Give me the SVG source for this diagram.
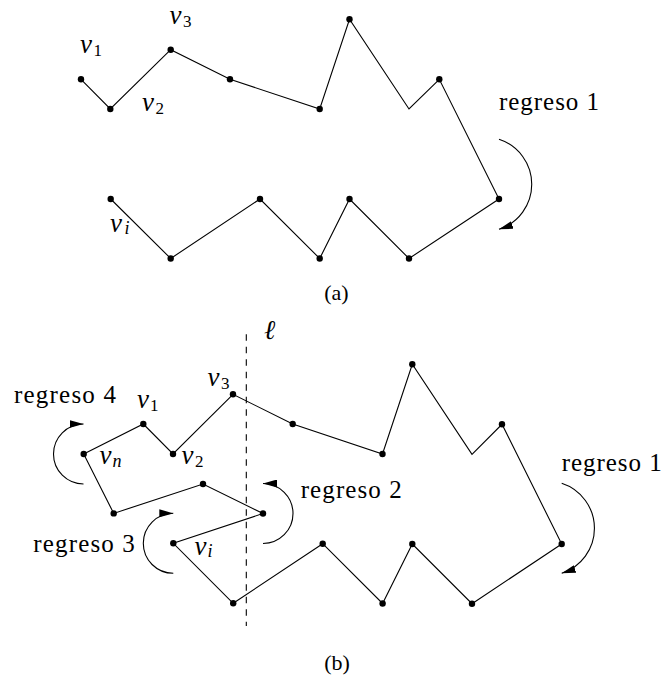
<svg xmlns="http://www.w3.org/2000/svg" width="662" height="677" viewBox="0 0 662 677">
<style>
.ln{fill:none;stroke:#000;stroke-width:1.1;stroke-linejoin:miter}
.arc{fill:none;stroke:#000;stroke-width:1.1;marker-end:url(#ah)}
.dash{fill:none;stroke:#000;stroke-width:1.1;stroke-dasharray:6.5 6}
.dot{fill:#000}
text{fill:#000}
.t{font-size:25px}
.m{font-style:italic;font-size:27px}
.s{font-size:17px}
.si{font-style:italic;font-size:18px}
.cap{font-size:22px}
</style>
<defs>
<marker id="ah" markerUnits="userSpaceOnUse" markerWidth="14" markerHeight="8" viewBox="0 0 14 8" refX="14" refY="4" orient="auto">
<path d="M0,0 L14,4 L0,8 z" fill="#000"/>
</marker>
</defs>

<g id="connectors">
<polyline class="ln" points="81,79.3 110.3,109 170.7,49.7 230,79.3 319.7,109 349.5,19.3 409,109 439.3,79.3 499,199 409,258.5 349.5,199 319.7,258.5 260,199 170.7,258.5 110.7,199"/>
<polygon class="ln" points="83.7,454 143.3,424 173,454 233,394.3 292.7,424 382.5,454 412.3,364.3 472,454.3 502,424.3 561.7,544 472,603.7 412.3,544 382.6,603.5 322.7,543.7 233.2,603.3 173.3,543.3 263,513.5 203,484 113.7,513.4"/>
<line class="dash" x1="246.3" y1="334.3" x2="246.3" y2="626"/>
<path class="arc" d="M499,139.3 A47.3,47.3 0 0 1 499,229.3"/>
<path class="arc" d="M561.7,483.3 A47.3,47.3 0 0 1 561.7,573.3"/>
<path class="arc" d="M83.5,484 A30,30 0 0 1 83.5,424"/>
<path class="arc" d="M263,543.5 A30,30 0 0 0 263,483.5"/>
<path class="arc" d="M173.3,573.3 A30,30 0 0 1 173.3,513.3"/>
</g>

<g id="nodes" font-family="'Liberation Serif', 'Times New Roman', 'DejaVu Serif', serif">
<g id="a-v1"><circle class="dot" cx="81" cy="79.3" r="3.2"/><text class="m" x="80" y="52.7">v</text><text class="s" x="93.5" y="55.5">1</text></g>
<g id="a-v2"><circle class="dot" cx="110.3" cy="109" r="3.2"/><text class="m" x="142" y="110.5">v</text><text class="s" x="155.5" y="113.5">2</text></g>
<g id="a-v3"><circle class="dot" cx="170.7" cy="49.7" r="3.2"/><text class="m" x="169.5" y="24">v</text><text class="s" x="183" y="26.5">3</text></g>
<g id="a-p4"><circle class="dot" cx="230" cy="79.3" r="3.2"/></g>
<g id="a-p5"><circle class="dot" cx="319.7" cy="109" r="3.2"/></g>
<g id="a-p6"><circle class="dot" cx="349.5" cy="19.3" r="3.2"/></g>
<g id="a-p7"><circle class="dot" cx="439.3" cy="79.3" r="3.2"/></g>
<g id="a-p8"><circle class="dot" cx="499" cy="199" r="3.2"/></g>
<g id="a-p9"><circle class="dot" cx="409" cy="258.5" r="3.2"/></g>
<g id="a-p10"><circle class="dot" cx="349.5" cy="199" r="3.2"/></g>
<g id="a-p11"><circle class="dot" cx="319.7" cy="258.5" r="3.2"/></g>
<g id="a-p12"><circle class="dot" cx="260" cy="199" r="3.2"/></g>
<g id="a-p13"><circle class="dot" cx="170.7" cy="258.5" r="3.2"/></g>
<g id="a-vi"><circle class="dot" cx="110.7" cy="199" r="3.2"/><text class="m" x="110" y="231.7">v</text><text class="si" x="124.5" y="233.5">i</text></g>
<g id="a-regreso1"><text class="t" x="499" y="110" textLength="100" lengthAdjust="spacing">regreso 1</text></g>
<g id="a-caption"><text class="cap" x="336.5" y="299.5" text-anchor="middle">(a)</text></g>

<g id="b-ell"><text class="m" x="264" y="339">ℓ</text></g>
<g id="b-vn"><circle class="dot" cx="83.7" cy="454" r="3.2"/><text class="m" x="99.5" y="464">v</text><text class="si" x="112.5" y="466.5">n</text></g>
<g id="b-v1"><circle class="dot" cx="143.3" cy="424" r="3.2"/><text class="m" x="137" y="407.7">v</text><text class="s" x="150" y="410.5">1</text></g>
<g id="b-v2"><circle class="dot" cx="173" cy="454" r="3.2"/><text class="m" x="181.5" y="464">v</text><text class="s" x="195" y="467">2</text></g>
<g id="b-v3"><circle class="dot" cx="233" cy="394.3" r="3.2"/><text class="m" x="207.5" y="386">v</text><text class="s" x="221" y="388.5">3</text></g>
<g id="b-p5"><circle class="dot" cx="292.7" cy="424" r="3.2"/></g>
<g id="b-p6"><circle class="dot" cx="382.5" cy="454" r="3.2"/></g>
<g id="b-p7"><circle class="dot" cx="412.3" cy="364.3" r="3.2"/></g>
<g id="b-p8"><circle class="dot" cx="502" cy="424.3" r="3.2"/></g>
<g id="b-p9"><circle class="dot" cx="561.7" cy="544" r="3.2"/></g>
<g id="b-p10"><circle class="dot" cx="472" cy="603.7" r="3.2"/></g>
<g id="b-p11"><circle class="dot" cx="412.3" cy="544" r="3.2"/></g>
<g id="b-p12"><circle class="dot" cx="382.6" cy="603.5" r="3.2"/></g>
<g id="b-p13"><circle class="dot" cx="322.7" cy="543.7" r="3.2"/></g>
<g id="b-p14"><circle class="dot" cx="233.2" cy="603.3" r="3.2"/></g>
<g id="b-vi"><circle class="dot" cx="173.3" cy="543.3" r="3.2"/><text class="m" x="194.5" y="555">v</text><text class="si" x="207.5" y="557">i</text></g>
<g id="b-p16"><circle class="dot" cx="263" cy="513.5" r="3.2"/></g>
<g id="b-p17"><circle class="dot" cx="203" cy="484" r="3.2"/></g>
<g id="b-p18"><circle class="dot" cx="113.7" cy="513.4" r="3.2"/></g>
<g id="b-regreso1"><text class="t" x="561.7" y="471" textLength="100" lengthAdjust="spacing">regreso 1</text></g>
<g id="b-regreso2"><text class="t" x="300.7" y="498.3" textLength="101" lengthAdjust="spacing">regreso 2</text></g>
<g id="b-regreso3"><text class="t" x="33.3" y="551.7" textLength="101.5" lengthAdjust="spacing">regreso 3</text></g>
<g id="b-regreso4"><text class="t" x="14" y="403.3" textLength="102" lengthAdjust="spacing">regreso 4</text></g>
<g id="b-caption"><text class="cap" x="337" y="669.5" text-anchor="middle">(b)</text></g>
</g>
</svg>
